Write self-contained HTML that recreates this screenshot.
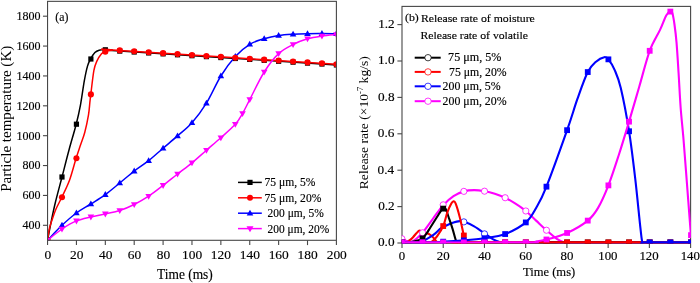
<!DOCTYPE html>
<html><head><meta charset="utf-8"><style>html,body{margin:0;padding:0;background:#fff;width:700px;height:283px;overflow:hidden}svg{display:block;filter:blur(0.3px)}</style></head>
<body>
<svg width="700" height="283" viewBox="0 0 700 283">
<defs>
<clipPath id="cl"><rect x="47.55" y="1.35" width="288.84999999999997" height="238.95000000000002"/></clipPath>
<clipPath id="cr"><rect x="401.7" y="6.4" width="289.20000000000005" height="237.0"/></clipPath>
</defs>
<rect width="700" height="283" fill="#fff"/>
<g clip-path="url(#cl)">
<path d="M47.55,240.20 C48.04,237.67 49.26,231.03 50.50,225.00 C51.74,218.97 53.08,212.00 55.00,204.00 C56.92,196.00 59.67,186.00 62.00,177.00 C64.33,168.00 66.63,158.80 69.00,150.00 C71.37,141.20 74.28,131.73 76.20,124.20 C78.12,116.67 79.15,112.02 80.50,104.80 C81.85,97.58 83.13,87.35 84.30,80.90 C85.47,74.45 86.45,69.75 87.50,66.10 C88.55,62.45 89.37,61.25 90.60,59.00 C91.83,56.75 93.48,54.07 94.90,52.60 C96.32,51.13 97.40,50.70 99.10,50.20 C100.80,49.70 102.95,49.65 105.10,49.60 C107.25,49.55 109.55,49.68 112.00,49.90 C114.45,50.12 82.40,48.40 119.80,50.90 C157.20,53.40 300.30,62.57 336.40,64.90" fill="none" stroke="#000" stroke-width="1.5"/>
<rect x="44.95" y="237.60" width="5.2" height="5.2" fill="#000"/>
<rect x="59.39" y="174.40" width="5.2" height="5.2" fill="#000"/>
<rect x="73.83" y="121.60" width="5.2" height="5.2" fill="#000"/>
<rect x="88.28" y="56.40" width="5.2" height="5.2" fill="#000"/>
<rect x="102.72" y="47.20" width="5.2" height="5.2" fill="#000"/>
<rect x="117.16" y="48.50" width="5.2" height="5.2" fill="#000"/>
<rect x="131.60" y="49.42" width="5.2" height="5.2" fill="#000"/>
<rect x="146.05" y="50.34" width="5.2" height="5.2" fill="#000"/>
<rect x="160.49" y="51.27" width="5.2" height="5.2" fill="#000"/>
<rect x="174.93" y="52.19" width="5.2" height="5.2" fill="#000"/>
<rect x="189.37" y="53.12" width="5.2" height="5.2" fill="#000"/>
<rect x="203.82" y="54.04" width="5.2" height="5.2" fill="#000"/>
<rect x="218.26" y="54.96" width="5.2" height="5.2" fill="#000"/>
<rect x="232.70" y="55.89" width="5.2" height="5.2" fill="#000"/>
<rect x="247.14" y="56.81" width="5.2" height="5.2" fill="#000"/>
<rect x="261.59" y="57.73" width="5.2" height="5.2" fill="#000"/>
<rect x="276.03" y="58.66" width="5.2" height="5.2" fill="#000"/>
<rect x="290.47" y="59.58" width="5.2" height="5.2" fill="#000"/>
<rect x="304.91" y="60.50" width="5.2" height="5.2" fill="#000"/>
<rect x="319.36" y="61.43" width="5.2" height="5.2" fill="#000"/>
<rect x="333.80" y="62.35" width="5.2" height="5.2" fill="#000"/>
<path d="M47.55,240.20 C49.96,237.72 57.18,229.83 61.99,225.30 C66.81,220.77 71.62,216.55 76.43,213.00 C81.25,209.45 86.06,207.07 90.88,204.00 C95.69,200.93 100.51,198.10 105.32,194.60 C110.13,191.10 114.95,186.92 119.76,183.00 C124.58,179.08 129.39,174.82 134.20,171.10 C139.02,167.38 143.83,164.52 148.65,160.70 C153.46,156.88 158.28,152.33 163.09,148.20 C167.90,144.07 172.72,140.13 177.53,135.90 C182.35,131.67 187.16,128.25 191.97,122.80 C196.79,117.35 201.60,111.00 206.42,103.20 C211.23,95.40 216.05,83.78 220.86,76.00 C225.67,68.22 230.49,61.78 235.30,56.50 C240.12,51.22 244.93,47.27 249.74,44.30 C254.56,41.33 259.37,40.17 264.19,38.70 C269.00,37.23 273.82,36.25 278.63,35.50 C283.44,34.75 288.26,34.50 293.07,34.20 C297.89,33.90 302.70,33.80 307.51,33.70 C312.33,33.60 317.14,33.58 321.96,33.60 C326.77,33.62 333.99,33.77 336.40,33.80" fill="none" stroke="#0000ff" stroke-width="1.5"/>
<path d="M47.55,236.72 L50.85,242.52 L44.25,242.52Z" fill="#0000ff"/>
<path d="M61.99,221.82 L65.29,227.62 L58.69,227.62Z" fill="#0000ff"/>
<path d="M76.43,209.52 L79.73,215.32 L73.13,215.32Z" fill="#0000ff"/>
<path d="M90.88,200.52 L94.18,206.32 L87.58,206.32Z" fill="#0000ff"/>
<path d="M105.32,191.12 L108.62,196.92 L102.02,196.92Z" fill="#0000ff"/>
<path d="M119.76,179.52 L123.06,185.32 L116.46,185.32Z" fill="#0000ff"/>
<path d="M134.20,167.62 L137.50,173.42 L130.90,173.42Z" fill="#0000ff"/>
<path d="M148.65,157.22 L151.95,163.02 L145.35,163.02Z" fill="#0000ff"/>
<path d="M163.09,144.72 L166.39,150.52 L159.79,150.52Z" fill="#0000ff"/>
<path d="M177.53,132.42 L180.83,138.22 L174.23,138.22Z" fill="#0000ff"/>
<path d="M191.97,119.32 L195.27,125.12 L188.67,125.12Z" fill="#0000ff"/>
<path d="M206.42,99.72 L209.72,105.52 L203.12,105.52Z" fill="#0000ff"/>
<path d="M220.86,72.52 L224.16,78.32 L217.56,78.32Z" fill="#0000ff"/>
<path d="M235.30,53.02 L238.60,58.82 L232.00,58.82Z" fill="#0000ff"/>
<path d="M249.74,40.82 L253.04,46.62 L246.44,46.62Z" fill="#0000ff"/>
<path d="M264.19,35.22 L267.49,41.02 L260.89,41.02Z" fill="#0000ff"/>
<path d="M278.63,32.02 L281.93,37.82 L275.33,37.82Z" fill="#0000ff"/>
<path d="M293.07,30.72 L296.37,36.52 L289.77,36.52Z" fill="#0000ff"/>
<path d="M307.51,30.22 L310.81,36.02 L304.21,36.02Z" fill="#0000ff"/>
<path d="M321.96,30.12 L325.26,35.92 L318.66,35.92Z" fill="#0000ff"/>
<path d="M336.40,30.32 L339.70,36.12 L333.10,36.12Z" fill="#0000ff"/>
<path d="M47.55,240.20 C47.88,238.17 48.69,231.53 49.50,228.00 C50.31,224.47 51.32,222.17 52.40,219.00 C53.48,215.83 54.43,212.62 56.00,209.00 C57.57,205.38 59.53,202.13 61.80,197.30 C64.07,192.47 67.22,186.50 69.60,180.00 C71.98,173.50 74.28,164.13 76.10,158.30 C77.92,152.47 79.05,149.35 80.50,145.00 C81.95,140.65 83.47,137.22 84.80,132.20 C86.13,127.18 87.67,119.77 88.50,114.90 C89.33,110.03 89.42,106.42 89.80,103.00 C90.18,99.58 90.12,99.83 90.80,94.40 C91.48,88.97 92.87,75.98 93.90,70.40 C94.93,64.82 95.77,63.65 97.00,60.90 C98.23,58.15 99.95,55.45 101.30,53.90 C102.65,52.35 103.32,52.20 105.10,51.60 C106.88,51.00 109.55,50.50 112.00,50.30 C114.45,50.10 82.40,48.07 119.80,50.40 C157.20,52.73 300.30,61.94 336.40,64.25" fill="none" stroke="#ff0000" stroke-width="1.5"/>
<circle cx="47.55" cy="240.20" r="3.05" fill="#ff0000"/>
<circle cx="61.99" cy="197.30" r="3.05" fill="#ff0000"/>
<circle cx="76.43" cy="158.30" r="3.05" fill="#ff0000"/>
<circle cx="90.88" cy="94.40" r="3.05" fill="#ff0000"/>
<circle cx="105.32" cy="51.80" r="3.05" fill="#ff0000"/>
<circle cx="119.76" cy="50.40" r="3.05" fill="#ff0000"/>
<circle cx="134.20" cy="51.32" r="3.05" fill="#ff0000"/>
<circle cx="148.65" cy="52.24" r="3.05" fill="#ff0000"/>
<circle cx="163.09" cy="53.17" r="3.05" fill="#ff0000"/>
<circle cx="177.53" cy="54.09" r="3.05" fill="#ff0000"/>
<circle cx="191.97" cy="55.02" r="3.05" fill="#ff0000"/>
<circle cx="206.42" cy="55.94" r="3.05" fill="#ff0000"/>
<circle cx="220.86" cy="56.86" r="3.05" fill="#ff0000"/>
<circle cx="235.30" cy="57.79" r="3.05" fill="#ff0000"/>
<circle cx="249.74" cy="58.71" r="3.05" fill="#ff0000"/>
<circle cx="264.19" cy="59.63" r="3.05" fill="#ff0000"/>
<circle cx="278.63" cy="60.56" r="3.05" fill="#ff0000"/>
<circle cx="293.07" cy="61.48" r="3.05" fill="#ff0000"/>
<circle cx="307.51" cy="62.40" r="3.05" fill="#ff0000"/>
<circle cx="321.96" cy="63.33" r="3.05" fill="#ff0000"/>
<circle cx="336.40" cy="64.25" r="3.05" fill="#ff0000"/>
<path d="M47.55,240.20 C49.96,238.33 57.18,232.22 61.99,229.00 C66.81,225.78 71.62,222.92 76.43,220.90 C81.25,218.88 86.06,218.07 90.88,216.90 C95.69,215.73 100.51,214.97 105.32,213.90 C110.13,212.83 114.95,212.07 119.76,210.50 C124.58,208.93 129.39,206.88 134.20,204.50 C139.02,202.12 143.83,199.38 148.65,196.20 C153.46,193.02 158.28,189.10 163.09,185.40 C167.90,181.70 172.72,177.77 177.53,174.00 C182.35,170.23 187.16,166.77 191.97,162.80 C196.79,158.83 201.60,154.38 206.42,150.20 C211.23,146.02 216.05,142.02 220.86,137.70 C225.67,133.38 231.69,128.33 235.30,124.30 C238.91,120.27 240.12,117.62 242.52,113.50 C244.93,109.38 246.13,106.52 249.74,99.60 C253.36,92.68 259.37,79.67 264.19,72.00 C269.00,64.33 273.82,58.18 278.63,53.60 C283.44,49.02 288.26,46.97 293.07,44.50 C297.89,42.03 302.70,40.22 307.51,38.80 C312.33,37.38 317.14,36.72 321.96,36.00 C326.77,35.28 333.99,34.75 336.40,34.50" fill="none" stroke="#ff00ff" stroke-width="1.5"/>
<path d="M47.55,243.68 L50.85,237.88 L44.25,237.88Z" fill="#ff00ff"/>
<path d="M61.99,232.48 L65.29,226.68 L58.69,226.68Z" fill="#ff00ff"/>
<path d="M76.43,224.38 L79.73,218.58 L73.13,218.58Z" fill="#ff00ff"/>
<path d="M90.88,220.38 L94.18,214.58 L87.58,214.58Z" fill="#ff00ff"/>
<path d="M105.32,217.38 L108.62,211.58 L102.02,211.58Z" fill="#ff00ff"/>
<path d="M119.76,213.98 L123.06,208.18 L116.46,208.18Z" fill="#ff00ff"/>
<path d="M134.20,207.98 L137.50,202.18 L130.90,202.18Z" fill="#ff00ff"/>
<path d="M148.65,199.68 L151.95,193.88 L145.35,193.88Z" fill="#ff00ff"/>
<path d="M163.09,188.88 L166.39,183.08 L159.79,183.08Z" fill="#ff00ff"/>
<path d="M177.53,177.48 L180.83,171.68 L174.23,171.68Z" fill="#ff00ff"/>
<path d="M191.97,166.28 L195.27,160.48 L188.67,160.48Z" fill="#ff00ff"/>
<path d="M206.42,153.68 L209.72,147.88 L203.12,147.88Z" fill="#ff00ff"/>
<path d="M220.86,141.18 L224.16,135.38 L217.56,135.38Z" fill="#ff00ff"/>
<path d="M235.30,127.78 L238.60,121.98 L232.00,121.98Z" fill="#ff00ff"/>
<path d="M242.52,116.98 L245.82,111.18 L239.22,111.18Z" fill="#ff00ff"/>
<path d="M249.74,103.08 L253.04,97.28 L246.44,97.28Z" fill="#ff00ff"/>
<path d="M264.19,75.48 L267.49,69.68 L260.89,69.68Z" fill="#ff00ff"/>
<path d="M278.63,57.08 L281.93,51.28 L275.33,51.28Z" fill="#ff00ff"/>
<path d="M293.07,47.98 L296.37,42.18 L289.77,42.18Z" fill="#ff00ff"/>
<path d="M307.51,42.28 L310.81,36.48 L304.21,36.48Z" fill="#ff00ff"/>
<path d="M321.96,39.48 L325.26,33.68 L318.66,33.68Z" fill="#ff00ff"/>
<path d="M336.40,37.98 L339.70,32.18 L333.10,32.18Z" fill="#ff00ff"/>
</g>
<rect x="47.55" y="1.35" width="288.85" height="238.95" fill="none" stroke="#474747" stroke-width="1.1"/>
<line x1="42.949999999999996" y1="225.30" x2="47.55" y2="225.30" stroke="#474747" stroke-width="1.1"/>
<text x="22.40" y="229.20" textLength="18.08" lengthAdjust="spacingAndGlyphs" style="font-family:'Liberation Serif',serif;font-size:13.5px" fill="#000" stroke="#000" stroke-width="0.15" >400</text>
<line x1="42.949999999999996" y1="195.43" x2="47.55" y2="195.43" stroke="#474747" stroke-width="1.1"/>
<text x="22.40" y="199.33" textLength="18.08" lengthAdjust="spacingAndGlyphs" style="font-family:'Liberation Serif',serif;font-size:13.5px" fill="#000" stroke="#000" stroke-width="0.15" >600</text>
<line x1="42.949999999999996" y1="165.56" x2="47.55" y2="165.56" stroke="#474747" stroke-width="1.1"/>
<text x="22.40" y="169.46" textLength="18.08" lengthAdjust="spacingAndGlyphs" style="font-family:'Liberation Serif',serif;font-size:13.5px" fill="#000" stroke="#000" stroke-width="0.15" >800</text>
<line x1="42.949999999999996" y1="135.69" x2="47.55" y2="135.69" stroke="#474747" stroke-width="1.1"/>
<text x="16.38" y="139.59" textLength="24.11" lengthAdjust="spacingAndGlyphs" style="font-family:'Liberation Serif',serif;font-size:13.5px" fill="#000" stroke="#000" stroke-width="0.15" >1000</text>
<line x1="42.949999999999996" y1="105.82" x2="47.55" y2="105.82" stroke="#474747" stroke-width="1.1"/>
<text x="16.38" y="109.72" textLength="24.11" lengthAdjust="spacingAndGlyphs" style="font-family:'Liberation Serif',serif;font-size:13.5px" fill="#000" stroke="#000" stroke-width="0.15" >1200</text>
<line x1="42.949999999999996" y1="75.94" x2="47.55" y2="75.94" stroke="#474747" stroke-width="1.1"/>
<text x="16.38" y="79.84" textLength="24.11" lengthAdjust="spacingAndGlyphs" style="font-family:'Liberation Serif',serif;font-size:13.5px" fill="#000" stroke="#000" stroke-width="0.15" >1400</text>
<line x1="42.949999999999996" y1="46.07" x2="47.55" y2="46.07" stroke="#474747" stroke-width="1.1"/>
<text x="16.38" y="49.97" textLength="24.11" lengthAdjust="spacingAndGlyphs" style="font-family:'Liberation Serif',serif;font-size:13.5px" fill="#000" stroke="#000" stroke-width="0.15" >1600</text>
<line x1="42.949999999999996" y1="16.20" x2="47.55" y2="16.20" stroke="#474747" stroke-width="1.1"/>
<text x="16.38" y="20.10" textLength="24.11" lengthAdjust="spacingAndGlyphs" style="font-family:'Liberation Serif',serif;font-size:13.5px" fill="#000" stroke="#000" stroke-width="0.15" >1800</text>
<line x1="47.55" y1="240.3" x2="47.55" y2="245.10000000000002" stroke="#474747" stroke-width="1.1"/>
<text x="44.59" y="258.50" textLength="6.72" lengthAdjust="spacingAndGlyphs" style="font-family:'Liberation Serif',serif;font-size:13.1px" fill="#000" stroke="#000" stroke-width="0.15" >0</text>
<line x1="76.43" y1="240.3" x2="76.43" y2="245.10000000000002" stroke="#474747" stroke-width="1.1"/>
<text x="70.08" y="258.50" textLength="13.44" lengthAdjust="spacingAndGlyphs" style="font-family:'Liberation Serif',serif;font-size:13.1px" fill="#000" stroke="#000" stroke-width="0.15" >20</text>
<line x1="105.32" y1="240.3" x2="105.32" y2="245.10000000000002" stroke="#474747" stroke-width="1.1"/>
<text x="99.13" y="258.50" textLength="13.44" lengthAdjust="spacingAndGlyphs" style="font-family:'Liberation Serif',serif;font-size:13.1px" fill="#000" stroke="#000" stroke-width="0.15" >40</text>
<line x1="134.20" y1="240.3" x2="134.20" y2="245.10000000000002" stroke="#474747" stroke-width="1.1"/>
<text x="127.88" y="258.50" textLength="13.44" lengthAdjust="spacingAndGlyphs" style="font-family:'Liberation Serif',serif;font-size:13.1px" fill="#000" stroke="#000" stroke-width="0.15" >60</text>
<line x1="163.09" y1="240.3" x2="163.09" y2="245.10000000000002" stroke="#474747" stroke-width="1.1"/>
<text x="156.77" y="258.50" textLength="13.44" lengthAdjust="spacingAndGlyphs" style="font-family:'Liberation Serif',serif;font-size:13.1px" fill="#000" stroke="#000" stroke-width="0.15" >80</text>
<line x1="191.97" y1="240.3" x2="191.97" y2="245.10000000000002" stroke="#474747" stroke-width="1.1"/>
<text x="181.99" y="258.50" textLength="20.16" lengthAdjust="spacingAndGlyphs" style="font-family:'Liberation Serif',serif;font-size:13.1px" fill="#000" stroke="#000" stroke-width="0.15" >100</text>
<line x1="220.86" y1="240.3" x2="220.86" y2="245.10000000000002" stroke="#474747" stroke-width="1.1"/>
<text x="210.88" y="258.50" textLength="20.16" lengthAdjust="spacingAndGlyphs" style="font-family:'Liberation Serif',serif;font-size:13.1px" fill="#000" stroke="#000" stroke-width="0.15" >120</text>
<line x1="249.74" y1="240.3" x2="249.74" y2="245.10000000000002" stroke="#474747" stroke-width="1.1"/>
<text x="239.76" y="258.50" textLength="20.16" lengthAdjust="spacingAndGlyphs" style="font-family:'Liberation Serif',serif;font-size:13.1px" fill="#000" stroke="#000" stroke-width="0.15" >140</text>
<line x1="278.63" y1="240.3" x2="278.63" y2="245.10000000000002" stroke="#474747" stroke-width="1.1"/>
<text x="268.65" y="258.50" textLength="20.16" lengthAdjust="spacingAndGlyphs" style="font-family:'Liberation Serif',serif;font-size:13.1px" fill="#000" stroke="#000" stroke-width="0.15" >160</text>
<line x1="307.51" y1="240.3" x2="307.51" y2="245.10000000000002" stroke="#474747" stroke-width="1.1"/>
<text x="297.53" y="258.50" textLength="20.16" lengthAdjust="spacingAndGlyphs" style="font-family:'Liberation Serif',serif;font-size:13.1px" fill="#000" stroke="#000" stroke-width="0.15" >180</text>
<line x1="336.40" y1="240.3" x2="336.40" y2="245.10000000000002" stroke="#474747" stroke-width="1.1"/>
<text x="326.68" y="258.50" textLength="20.16" lengthAdjust="spacingAndGlyphs" style="font-family:'Liberation Serif',serif;font-size:13.1px" fill="#000" stroke="#000" stroke-width="0.15" >200</text>
<text x="157.03" y="278.50" textLength="55.75" lengthAdjust="spacingAndGlyphs" style="font-family:'Liberation Serif',serif;font-size:14.0px" fill="#000" stroke="#000" stroke-width="0.15" >Time (ms)</text>
<text transform="translate(10.50,191.85) rotate(-90)" textLength="146.09" lengthAdjust="spacingAndGlyphs" style="font-family:'Liberation Serif',serif;font-size:14.6px" fill="#000">Particle temperature (K)</text>
<text x="55.37" y="20.60" textLength="13.06" lengthAdjust="spacingAndGlyphs" style="font-family:'Liberation Serif',serif;font-size:12.5px" fill="#000" stroke="#000" stroke-width="0.15" >(a)</text>
<line x1="238" y1="182.4" x2="261.8" y2="182.4" stroke="#000" stroke-width="1.5"/>
<rect x="247.40" y="179.80" width="5.2" height="5.2" fill="#000"/>
<text x="264.55" y="186.30" textLength="50.92" lengthAdjust="spacingAndGlyphs" style="font-family:'Liberation Serif',serif;font-size:12.2px" fill="#000" stroke="#000" stroke-width="0.15" >75 μm, 5%</text>
<line x1="238" y1="197.8" x2="261.8" y2="197.8" stroke="#ff0000" stroke-width="1.5"/>
<circle cx="250.00" cy="197.80" r="3.0" fill="#ff0000"/>
<text x="264.55" y="201.70" textLength="56.83" lengthAdjust="spacingAndGlyphs" style="font-family:'Liberation Serif',serif;font-size:12.2px" fill="#000" stroke="#000" stroke-width="0.15" >75 μm, 20%</text>
<line x1="238" y1="213.2" x2="261.8" y2="213.2" stroke="#0000ff" stroke-width="1.5"/>
<path d="M250.00,209.72 L253.30,215.52 L246.70,215.52Z" fill="#0000ff"/>
<text x="267.58" y="217.10" textLength="56.18" lengthAdjust="spacingAndGlyphs" style="font-family:'Liberation Serif',serif;font-size:12.2px" fill="#000" stroke="#000" stroke-width="0.15" >200 μm, 5%</text>
<line x1="238" y1="228.6" x2="261.8" y2="228.6" stroke="#ff00ff" stroke-width="1.5"/>
<path d="M250.00,232.30 L253.50,226.14 L246.50,226.14Z" fill="#ff00ff"/>
<text x="267.59" y="232.50" textLength="61.68" lengthAdjust="spacingAndGlyphs" style="font-family:'Liberation Serif',serif;font-size:12.2px" fill="#000" stroke="#000" stroke-width="0.15" >200 μm, 20%</text>
<rect x="402.0" y="6.4" width="288.60" height="236.50" fill="none" stroke="#474747" stroke-width="1.1"/>
<g clip-path="url(#cr)">
<path d="M401.90,242.40 C450.08,242.40 642.82,242.40 691.00,242.40" fill="none" stroke="#000" stroke-width="2.1" stroke-linejoin="round"/>
<path d="M401.90,236.95 C402.42,237.50 404.14,239.49 405.00,240.22 C405.86,240.95 406.20,241.37 407.06,241.31 C407.92,241.25 409.13,240.58 410.16,239.86 C411.19,239.13 412.23,238.04 413.26,236.95 C414.29,235.86 415.39,234.35 416.35,233.32 C417.32,232.29 418.18,231.14 419.04,230.78 C419.90,230.41 420.59,230.87 421.52,231.14 C422.45,231.41 423.75,232.05 424.61,232.41 C425.48,232.78 425.92,233.02 426.68,233.32 C427.44,233.62 428.02,233.50 429.16,234.23 C430.29,234.95 432.32,236.53 433.49,237.68 C434.66,238.83 435.42,240.34 436.18,241.13 C436.94,241.92 436.87,242.19 438.04,242.40 C439.21,242.61 401.04,242.40 443.20,242.40 C485.36,242.40 649.70,242.40 691.00,242.40" fill="none" stroke="#ff0000" stroke-width="2.1" stroke-linejoin="round"/>
<path d="M401.90,242.40 C404.65,242.40 414.98,242.58 418.42,242.40 C421.86,242.22 420.76,242.10 422.55,241.31 C424.34,240.52 427.02,239.01 429.16,237.68 C431.29,236.35 433.53,234.80 435.35,233.32 C437.18,231.84 438.79,229.84 440.10,228.78 C441.41,227.72 440.96,227.99 443.20,226.96 C445.44,225.93 450.77,223.57 453.52,222.61 C456.28,221.64 458.00,221.33 459.72,221.15 C461.44,220.97 461.44,220.64 463.85,221.52 C466.26,222.39 470.73,224.45 474.17,226.42 C477.62,228.39 481.40,231.20 484.50,233.32 C487.60,235.44 490.35,237.71 492.76,239.13 C495.17,240.55 496.89,241.31 498.95,241.86 C501.02,242.40 473.14,242.31 505.15,242.40 C537.16,242.49 660.02,242.40 691.00,242.40" fill="none" stroke="#0000ff" stroke-width="2.1" stroke-linejoin="round"/>
<circle cx="463.85" cy="221.88" r="3.1" fill="#fff" stroke="#0000ff" stroke-width="0.8"/>
<circle cx="484.50" cy="233.86" r="3.1" fill="#fff" stroke="#0000ff" stroke-width="0.8"/>
<path d="M401.90,238.77 C403.28,239.31 407.75,242.04 410.16,242.04 C412.57,242.04 414.29,240.31 416.35,238.77 C418.42,237.22 419.80,236.10 422.55,232.78 C425.30,229.45 429.43,223.39 432.88,218.79 C436.32,214.19 439.76,208.96 443.20,205.17 C446.64,201.39 450.08,198.39 453.52,196.09 C456.97,193.79 460.41,192.37 463.85,191.37 C467.29,190.37 470.73,190.13 474.17,190.10 C477.62,190.07 481.06,190.58 484.50,191.19 C487.94,191.79 491.38,192.64 494.82,193.73 C498.27,194.82 501.71,196.06 505.15,197.73 C508.59,199.39 512.03,201.51 515.48,203.72 C518.92,205.93 522.36,208.17 525.80,210.98 C529.24,213.80 532.68,217.40 536.12,220.61 C539.57,223.82 543.01,227.21 546.45,230.23 C549.89,233.26 553.82,236.74 556.77,238.77 C559.73,240.80 562.49,241.79 564.21,242.40 C565.93,243.01 545.97,242.40 567.10,242.40 C588.23,242.40 670.35,242.40 691.00,242.40" fill="none" stroke="#ff00ff" stroke-width="2.1" stroke-linejoin="round"/>
<circle cx="401.90" cy="238.77" r="3.1" fill="#fff" stroke="#ff00ff" stroke-width="0.8"/>
<circle cx="422.55" cy="232.78" r="3.1" fill="#fff" stroke="#ff00ff" stroke-width="0.8"/>
<circle cx="443.20" cy="204.81" r="3.1" fill="#fff" stroke="#ff00ff" stroke-width="0.8"/>
<circle cx="463.85" cy="191.37" r="3.1" fill="#fff" stroke="#ff00ff" stroke-width="0.8"/>
<circle cx="484.50" cy="191.19" r="3.1" fill="#fff" stroke="#ff00ff" stroke-width="0.8"/>
<circle cx="505.15" cy="197.73" r="3.1" fill="#fff" stroke="#ff00ff" stroke-width="0.8"/>
<circle cx="525.80" cy="210.98" r="3.1" fill="#fff" stroke="#ff00ff" stroke-width="0.8"/>
<circle cx="546.45" cy="230.23" r="3.1" fill="#fff" stroke="#ff00ff" stroke-width="0.8"/>
<path d="M401.90,242.40 C403.62,242.31 409.47,242.22 412.22,241.86 C414.98,241.49 416.70,240.80 418.42,240.22 C420.14,239.65 421.17,239.55 422.55,238.40 C423.93,237.25 425.41,235.11 426.68,233.32 C427.95,231.53 428.47,230.41 430.19,227.69 C431.91,224.97 435.18,219.82 437.00,216.98 C438.83,214.13 440.00,212.13 441.13,210.62 C442.27,209.11 443.03,208.11 443.82,207.90 C444.61,207.68 445.09,207.84 445.88,209.35 C446.68,210.86 447.47,213.77 448.57,216.98 C449.67,220.18 451.22,224.54 452.49,228.60 C453.77,232.65 455.18,239.01 456.21,241.31 C457.24,243.61 457.41,242.22 458.69,242.40 C459.96,242.58 425.13,242.40 463.85,242.40 C502.57,242.40 653.14,242.40 691.00,242.40" fill="none" stroke="#000" stroke-width="2.1" stroke-linejoin="round"/>
<rect x="399.00" y="239.50" width="5.8" height="5.8" fill="#000"/>
<rect x="419.65" y="235.50" width="5.8" height="5.8" fill="#000"/>
<rect x="440.30" y="205.72" width="5.8" height="5.8" fill="#000"/>
<rect x="460.95" y="239.50" width="5.8" height="5.8" fill="#000"/>
<rect x="481.60" y="239.50" width="5.8" height="5.8" fill="#000"/>
<rect x="502.25" y="239.50" width="5.8" height="5.8" fill="#000"/>
<rect x="522.90" y="239.50" width="5.8" height="5.8" fill="#000"/>
<rect x="543.55" y="239.50" width="5.8" height="5.8" fill="#000"/>
<rect x="564.20" y="239.50" width="5.8" height="5.8" fill="#000"/>
<rect x="584.85" y="239.50" width="5.8" height="5.8" fill="#000"/>
<rect x="605.50" y="239.50" width="5.8" height="5.8" fill="#000"/>
<rect x="626.15" y="239.50" width="5.8" height="5.8" fill="#000"/>
<rect x="646.80" y="239.50" width="5.8" height="5.8" fill="#000"/>
<rect x="667.45" y="239.50" width="5.8" height="5.8" fill="#000"/>
<rect x="688.10" y="239.50" width="5.8" height="5.8" fill="#000"/>
<path d="M401.90,242.40 C406.03,242.40 421.69,242.52 426.68,242.40 C431.67,242.28 430.12,242.67 431.84,241.67 C433.56,240.67 435.11,239.01 437.00,236.41 C438.90,233.80 441.48,230.05 443.20,226.06 C444.92,222.06 445.95,216.22 447.33,212.44 C448.71,208.65 450.43,205.20 451.46,203.36 C452.49,201.51 452.84,201.36 453.52,201.36 C454.21,201.36 454.56,200.75 455.59,203.36 C456.62,205.96 458.34,211.62 459.72,216.98 C461.10,222.33 462.82,231.26 463.85,235.50 C464.88,239.74 464.88,241.25 465.91,242.40 C466.95,243.55 432.53,242.40 470.04,242.40 C507.56,242.40 654.17,242.40 691.00,242.40" fill="none" stroke="#ff0000" stroke-width="2.1" stroke-linejoin="round"/>
<rect x="399.00" y="239.50" width="5.8" height="5.8" fill="#ff0000"/>
<rect x="419.65" y="239.50" width="5.8" height="5.8" fill="#ff0000"/>
<rect x="440.30" y="223.16" width="5.8" height="5.8" fill="#ff0000"/>
<rect x="460.95" y="232.60" width="5.8" height="5.8" fill="#ff0000"/>
<rect x="481.60" y="239.50" width="5.8" height="5.8" fill="#ff0000"/>
<rect x="502.25" y="239.50" width="5.8" height="5.8" fill="#ff0000"/>
<rect x="522.90" y="239.50" width="5.8" height="5.8" fill="#ff0000"/>
<rect x="543.55" y="239.50" width="5.8" height="5.8" fill="#ff0000"/>
<rect x="564.20" y="239.50" width="5.8" height="5.8" fill="#ff0000"/>
<rect x="584.85" y="239.50" width="5.8" height="5.8" fill="#ff0000"/>
<rect x="605.50" y="239.50" width="5.8" height="5.8" fill="#ff0000"/>
<rect x="626.15" y="239.50" width="5.8" height="5.8" fill="#ff0000"/>
<rect x="646.80" y="239.50" width="5.8" height="5.8" fill="#ff0000"/>
<rect x="667.45" y="239.50" width="5.8" height="5.8" fill="#ff0000"/>
<rect x="688.10" y="239.50" width="5.8" height="5.8" fill="#ff0000"/>
<path d="M401.90,242.40 C407.06,242.40 425.99,242.52 432.88,242.40 C439.76,242.28 438.04,242.01 443.20,241.67 C448.36,241.34 456.97,240.98 463.85,240.40 C470.73,239.83 477.62,239.28 484.50,238.22 C491.38,237.16 498.27,236.68 505.15,234.05 C512.03,231.41 520.64,226.78 525.80,222.42 C530.96,218.07 532.68,213.86 536.12,207.90 C539.57,201.93 541.29,199.60 546.45,186.65 C551.61,173.69 561.94,144.79 567.10,130.17 C572.26,115.55 573.98,108.62 577.42,98.94 C580.87,89.25 584.65,78.26 587.75,72.06 C590.85,65.85 593.26,64.19 596.01,61.71 C598.76,59.23 602.20,57.56 604.27,57.17 C606.34,56.77 606.68,57.23 608.40,59.35 C610.12,61.47 612.53,65.10 614.60,69.88 C616.66,74.66 618.38,77.81 620.79,88.04 C623.20,98.27 626.64,116.13 629.05,131.26 C631.46,146.39 633.35,162.74 635.25,178.84 C637.14,194.94 639.20,217.28 640.41,227.87 C641.61,238.47 641.61,239.98 642.47,242.40 C643.33,244.82 637.48,242.40 645.57,242.40 C653.66,242.40 683.43,242.40 691.00,242.40" fill="none" stroke="#0000ff" stroke-width="2.1" stroke-linejoin="round"/>
<rect x="399.00" y="239.50" width="5.8" height="5.8" fill="#0000ff"/>
<rect x="419.65" y="239.50" width="5.8" height="5.8" fill="#0000ff"/>
<rect x="440.30" y="238.77" width="5.8" height="5.8" fill="#0000ff"/>
<rect x="460.95" y="237.50" width="5.8" height="5.8" fill="#0000ff"/>
<rect x="481.60" y="235.32" width="5.8" height="5.8" fill="#0000ff"/>
<rect x="502.25" y="231.15" width="5.8" height="5.8" fill="#0000ff"/>
<rect x="522.90" y="219.52" width="5.8" height="5.8" fill="#0000ff"/>
<rect x="543.55" y="183.75" width="5.8" height="5.8" fill="#0000ff"/>
<rect x="564.20" y="127.27" width="5.8" height="5.8" fill="#0000ff"/>
<rect x="584.85" y="69.16" width="5.8" height="5.8" fill="#0000ff"/>
<rect x="605.50" y="56.45" width="5.8" height="5.8" fill="#0000ff"/>
<rect x="626.15" y="128.36" width="5.8" height="5.8" fill="#0000ff"/>
<rect x="646.80" y="239.50" width="5.8" height="5.8" fill="#0000ff"/>
<rect x="667.45" y="239.50" width="5.8" height="5.8" fill="#0000ff"/>
<rect x="688.10" y="239.50" width="5.8" height="5.8" fill="#0000ff"/>
<path d="M401.90,242.40 C422.55,242.40 503.43,242.55 525.80,242.40 C548.17,242.25 532.68,241.98 536.12,241.49 C539.57,241.01 541.29,240.92 546.45,239.49 C551.61,238.07 560.22,236.10 567.10,232.96 C573.98,229.81 582.59,224.78 587.75,220.61 C592.91,216.43 594.63,213.77 598.07,207.90 C601.52,202.02 604.96,194.15 608.40,185.38 C611.84,176.60 615.28,165.86 618.72,155.23 C622.17,144.61 625.61,133.14 629.05,121.64 C632.49,110.13 635.93,98.03 639.38,86.22 C642.82,74.42 646.26,60.19 649.70,50.81 C653.14,41.43 657.27,35.83 660.02,29.93 C662.78,24.03 664.50,18.52 666.22,15.40 C667.94,12.28 669.32,11.59 670.35,11.22 C671.38,10.86 671.73,11.01 672.41,13.22 C673.10,15.43 673.79,19.58 674.48,24.48 C675.17,29.38 675.86,34.47 676.54,42.64 C677.23,50.81 677.92,62.62 678.61,73.51 C679.30,84.41 679.85,96.94 680.67,108.02 C681.50,119.09 682.53,127.57 683.57,139.98 C684.60,152.39 685.73,167.73 686.87,182.47 C688.01,197.21 689.69,219.64 690.38,228.42 C691.07,237.19 690.90,234.02 691.00,235.14" fill="none" stroke="#ff00ff" stroke-width="2.1" stroke-linejoin="round"/>
<rect x="399.00" y="239.50" width="5.8" height="5.8" fill="#ff00ff"/>
<rect x="419.65" y="239.50" width="5.8" height="5.8" fill="#ff00ff"/>
<rect x="440.30" y="239.50" width="5.8" height="5.8" fill="#ff00ff"/>
<rect x="460.95" y="239.50" width="5.8" height="5.8" fill="#ff00ff"/>
<rect x="481.60" y="239.50" width="5.8" height="5.8" fill="#ff00ff"/>
<rect x="502.25" y="239.50" width="5.8" height="5.8" fill="#ff00ff"/>
<rect x="522.90" y="239.50" width="5.8" height="5.8" fill="#ff00ff"/>
<rect x="543.55" y="236.59" width="5.8" height="5.8" fill="#ff00ff"/>
<rect x="564.20" y="230.06" width="5.8" height="5.8" fill="#ff00ff"/>
<rect x="584.85" y="217.71" width="5.8" height="5.8" fill="#ff00ff"/>
<rect x="605.50" y="182.48" width="5.8" height="5.8" fill="#ff00ff"/>
<rect x="626.15" y="118.74" width="5.8" height="5.8" fill="#ff00ff"/>
<rect x="646.80" y="47.91" width="5.8" height="5.8" fill="#ff00ff"/>
<rect x="667.45" y="8.69" width="5.8" height="5.8" fill="#ff00ff"/>
<rect x="688.10" y="232.24" width="5.8" height="5.8" fill="#ff00ff"/>
</g>
<line x1="397.4" y1="243.00" x2="402.0" y2="243.00" stroke="#474747" stroke-width="1.1"/>
<text x="377.97" y="246.40" textLength="16.56" lengthAdjust="spacingAndGlyphs" style="font-family:'Liberation Serif',serif;font-size:12.2px" fill="#000" stroke="#000" stroke-width="0.15" >0.0</text>
<line x1="397.4" y1="206.60" x2="402.0" y2="206.60" stroke="#474747" stroke-width="1.1"/>
<text x="378.17" y="210.00" textLength="16.56" lengthAdjust="spacingAndGlyphs" style="font-family:'Liberation Serif',serif;font-size:12.2px" fill="#000" stroke="#000" stroke-width="0.15" >0.2</text>
<line x1="397.4" y1="170.20" x2="402.0" y2="170.20" stroke="#474747" stroke-width="1.1"/>
<text x="377.64" y="173.60" textLength="16.56" lengthAdjust="spacingAndGlyphs" style="font-family:'Liberation Serif',serif;font-size:12.2px" fill="#000" stroke="#000" stroke-width="0.15" >0.4</text>
<line x1="397.4" y1="133.80" x2="402.0" y2="133.80" stroke="#474747" stroke-width="1.1"/>
<text x="377.84" y="137.20" textLength="16.56" lengthAdjust="spacingAndGlyphs" style="font-family:'Liberation Serif',serif;font-size:12.2px" fill="#000" stroke="#000" stroke-width="0.15" >0.6</text>
<line x1="397.4" y1="97.40" x2="402.0" y2="97.40" stroke="#474747" stroke-width="1.1"/>
<text x="377.97" y="100.80" textLength="16.56" lengthAdjust="spacingAndGlyphs" style="font-family:'Liberation Serif',serif;font-size:12.2px" fill="#000" stroke="#000" stroke-width="0.15" >0.8</text>
<line x1="397.4" y1="61.00" x2="402.0" y2="61.00" stroke="#474747" stroke-width="1.1"/>
<text x="377.97" y="64.40" textLength="16.56" lengthAdjust="spacingAndGlyphs" style="font-family:'Liberation Serif',serif;font-size:12.2px" fill="#000" stroke="#000" stroke-width="0.15" >1.0</text>
<line x1="397.4" y1="24.60" x2="402.0" y2="24.60" stroke="#474747" stroke-width="1.1"/>
<text x="378.17" y="28.00" textLength="16.56" lengthAdjust="spacingAndGlyphs" style="font-family:'Liberation Serif',serif;font-size:12.2px" fill="#000" stroke="#000" stroke-width="0.15" >1.2</text>
<line x1="402.00" y1="243.70000000000002" x2="402.00" y2="247.9" stroke="#474747" stroke-width="1.1"/>
<text x="398.79" y="260.30" textLength="6.41" lengthAdjust="spacingAndGlyphs" style="font-family:'Liberation Serif',serif;font-size:11.9px" fill="#000" stroke="#000" stroke-width="0.15" >0</text>
<line x1="443.23" y1="243.70000000000002" x2="443.23" y2="247.9" stroke="#474747" stroke-width="1.1"/>
<text x="436.78" y="260.30" textLength="12.83" lengthAdjust="spacingAndGlyphs" style="font-family:'Liberation Serif',serif;font-size:11.9px" fill="#000" stroke="#000" stroke-width="0.15" >20</text>
<line x1="484.46" y1="243.70000000000002" x2="484.46" y2="247.9" stroke="#474747" stroke-width="1.1"/>
<text x="478.17" y="260.30" textLength="12.83" lengthAdjust="spacingAndGlyphs" style="font-family:'Liberation Serif',serif;font-size:11.9px" fill="#000" stroke="#000" stroke-width="0.15" >40</text>
<line x1="525.69" y1="243.70000000000002" x2="525.69" y2="247.9" stroke="#474747" stroke-width="1.1"/>
<text x="519.27" y="260.30" textLength="12.83" lengthAdjust="spacingAndGlyphs" style="font-family:'Liberation Serif',serif;font-size:11.9px" fill="#000" stroke="#000" stroke-width="0.15" >60</text>
<line x1="566.91" y1="243.70000000000002" x2="566.91" y2="247.9" stroke="#474747" stroke-width="1.1"/>
<text x="560.50" y="260.30" textLength="12.83" lengthAdjust="spacingAndGlyphs" style="font-family:'Liberation Serif',serif;font-size:11.9px" fill="#000" stroke="#000" stroke-width="0.15" >80</text>
<line x1="608.14" y1="243.70000000000002" x2="608.14" y2="247.9" stroke="#474747" stroke-width="1.1"/>
<text x="598.23" y="260.30" textLength="19.24" lengthAdjust="spacingAndGlyphs" style="font-family:'Liberation Serif',serif;font-size:11.9px" fill="#000" stroke="#000" stroke-width="0.15" >100</text>
<line x1="649.37" y1="243.70000000000002" x2="649.37" y2="247.9" stroke="#474747" stroke-width="1.1"/>
<text x="639.46" y="260.30" textLength="19.24" lengthAdjust="spacingAndGlyphs" style="font-family:'Liberation Serif',serif;font-size:11.9px" fill="#000" stroke="#000" stroke-width="0.15" >120</text>
<line x1="690.60" y1="243.70000000000002" x2="690.60" y2="247.9" stroke="#474747" stroke-width="1.1"/>
<text x="680.69" y="260.30" textLength="19.24" lengthAdjust="spacingAndGlyphs" style="font-family:'Liberation Serif',serif;font-size:11.9px" fill="#000" stroke="#000" stroke-width="0.15" >140</text>
<text x="522.95" y="276.00" textLength="52.29" lengthAdjust="spacingAndGlyphs" style="font-family:'Liberation Serif',serif;font-size:12.3px" fill="#000" stroke="#000" stroke-width="0.15" >Time (ms)</text>
<text transform="translate(367.8,189.20) rotate(-90)" style="font-family:'Liberation Serif',serif;font-size:13.5px" fill="#000" textLength="133" lengthAdjust="spacingAndGlyphs">Release rate (×10<tspan dy="-5" style="font-size:8.5px">-7</tspan><tspan dy="5"> kg/s)</tspan></text>
<text x="404.97" y="21.20" textLength="13.71" lengthAdjust="spacingAndGlyphs" style="font-family:'Liberation Serif',serif;font-size:11.2px" fill="#000" stroke="#000" stroke-width="0.15" >(b)</text>
<text x="420.95" y="21.50" textLength="113.87" lengthAdjust="spacingAndGlyphs" style="font-family:'Liberation Serif',serif;font-size:11.4px" fill="#000" stroke="#000" stroke-width="0.15" >Release rate of moisture</text>
<text x="420.45" y="39.40" textLength="107.56" lengthAdjust="spacingAndGlyphs" style="font-family:'Liberation Serif',serif;font-size:11.4px" fill="#000" stroke="#000" stroke-width="0.15" >Release rate of volatile</text>
<line x1="414.7" y1="57.7" x2="440.7" y2="57.7" stroke="#000" stroke-width="2"/>
<circle cx="428.00" cy="57.70" r="3.2" fill="#fff" stroke="#000" stroke-width="0.75"/>
<text x="448.11" y="61.40" textLength="53.28" lengthAdjust="spacingAndGlyphs" style="font-family:'Liberation Serif',serif;font-size:11.5px" fill="#000" stroke="#000" stroke-width="0.15" >75 μm, 5%</text>
<line x1="414.7" y1="71.9" x2="440.7" y2="71.9" stroke="#ff0000" stroke-width="2"/>
<circle cx="428.00" cy="71.90" r="3.2" fill="#fff" stroke="#ff0000" stroke-width="0.75"/>
<text x="449.14" y="75.60" textLength="57.54" lengthAdjust="spacingAndGlyphs" style="font-family:'Liberation Serif',serif;font-size:11.5px" fill="#000" stroke="#000" stroke-width="0.15" >75 μm, 20%</text>
<line x1="414.7" y1="86.3" x2="440.7" y2="86.3" stroke="#0000ff" stroke-width="2"/>
<circle cx="428.00" cy="86.30" r="3.2" fill="#fff" stroke="#0000ff" stroke-width="0.75"/>
<text x="442.57" y="90.00" textLength="58.11" lengthAdjust="spacingAndGlyphs" style="font-family:'Liberation Serif',serif;font-size:11.5px" fill="#000" stroke="#000" stroke-width="0.15" >200 μm, 5%</text>
<line x1="414.7" y1="101.2" x2="440.7" y2="101.2" stroke="#ff00ff" stroke-width="2"/>
<circle cx="428.00" cy="101.20" r="3.2" fill="#fff" stroke="#ff00ff" stroke-width="0.75"/>
<text x="442.57" y="104.90" textLength="64.01" lengthAdjust="spacingAndGlyphs" style="font-family:'Liberation Serif',serif;font-size:11.5px" fill="#000" stroke="#000" stroke-width="0.15" >200 μm, 20%</text>
</svg>
</body></html>
